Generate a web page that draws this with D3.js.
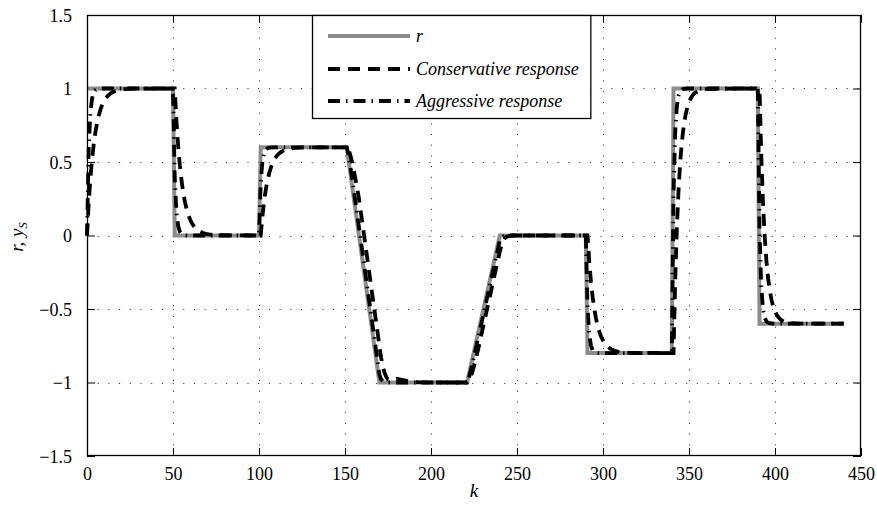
<!DOCTYPE html>
<html><head><meta charset="utf-8">
<script src="https://cdn.jsdelivr.net/npm/d3@7/dist/d3.min.js"></script>
<style>
html,body{margin:0;padding:0;background:#fff;}
svg{display:block;}
</style></head>
<body>
<script>
// ---- data ----
const xTicks = [0,50,100,150,200,250,300,350,400,450];
const xTickLabels = ["0","50","100","150","200","250","300","350","400","450"];
const yTicks = [-1.5,-1,-0.5,0,0.5,1,1.5];
const yTickLabels = ["\u22121.5","\u22121","\u22120.5","0","0.5","1","1.5"];

const seriesNames = ["r","Conservative response","Aggressive response"];

const kRef = [0,50,51,100,101,151,170,221,240,290,291,340,341,390,391,440];
const rRef = [1,1,0,0,0.6,0.6,-1,-1,0,0,-0.8,-0.8,1,1,-0.6,-0.6];

const kCons = [0,1,2,3,4,5,6,7,8,9,10,11,12,13,14,15,17,19,22,26,51,
  52,53,54,55,56,57,58,59,60,61,62,63,64,65,67,69,71,76,101,
  102,103,104,105,106,107,108,109,110,111,112,113,114,115,116,117,119,121,126,151,
  152,153,154,155,156,157,158,159,160,161,162,163,164,165,166,167,168,169,170,171,172,173,174,175,177,180,183,187,192,200,221,
  222,223,224,225,226,227,228,229,230,231,232,233,234,235,236,237,238,239,240,241,242,243,244,246,248,291,
  292,293,294,295,296,297,298,299,300,301,302,303,304,305,306,307,309,311,315,341,
  342,343,344,345,346,347,348,349,350,351,352,353,355,357,361,391,
  392,393,394,395,396,397,398,399,400,401,402,403,404,405,407,409,413,440];
const yCons = [0,0.22,0.392,0.525,0.63,0.711,0.775,0.824,0.863,0.893,0.917,0.935,0.949,0.96,0.969,0.976,0.985,0.991,0.996,0.999,1,
  0.78,0.608,0.475,0.37,0.289,0.225,0.176,0.137,0.107,0.083,0.065,0.051,0.04,0.031,0.019,0.011,0.007,0.002,0,
  0.132,0.235,0.315,0.378,0.427,0.465,0.494,0.518,0.536,0.55,0.561,0.569,0.576,0.581,0.586,0.589,0.593,0.596,0.599,0.6,
  0.585,0.55,0.505,0.45,0.39,0.327,0.26,0.177,0.093,0.008,-0.076,-0.16,-0.245,-0.329,-0.413,-0.497,-0.58,-0.665,-0.75,-0.83,-0.89,-0.935,-0.962,-0.978,-0.985,-0.975,-0.982,-0.992,-0.998,-1,-1,
  -0.99,-0.965,-0.93,-0.89,-0.845,-0.795,-0.745,-0.69,-0.638,-0.585,-0.532,-0.48,-0.427,-0.374,-0.32,-0.268,-0.215,-0.162,-0.11,-0.065,-0.035,-0.017,-0.008,-0.002,0,0,
  -0.176,-0.314,-0.42,-0.504,-0.569,-0.62,-0.659,-0.69,-0.714,-0.733,-0.748,-0.759,-0.768,-0.775,-0.781,-0.785,-0.791,-0.795,-0.798,-0.8,
  -0.296,0.067,0.329,0.516,0.652,0.75,0.82,0.87,0.906,0.933,0.951,0.966,0.982,0.991,0.998,1,
  0.552,0.229,-0.003,-0.17,-0.291,-0.378,-0.44,-0.485,-0.517,-0.54,-0.557,-0.569,-0.578,-0.584,-0.592,-0.596,-0.599,-0.6];

const kAggr = [0,1,2,3,4,5,6,8,50,
  51,52,53,54,55,56,58,100,
  101,102,103,104,105,106,108,151,
  152,153,154,155,156,157,158,170,171,172,173,174,176,221,
  222,223,224,225,226,227,240,241,242,243,245,290,
  291,292,293,294,295,296,298,340,
  341,342,343,344,345,346,347,349,390,
  391,392,393,394,395,396,397,399,440];
const yAggr = [0,0.6,0.84,0.936,0.974,0.99,0.996,1,1,
  0.4,0.16,0.064,0.026,0.01,0.004,0,0,
  0.36,0.504,0.562,0.585,0.594,0.598,0.6,0.6,
  0.55,0.479,0.4,0.318,0.235,0.151,0.067,-0.944,-0.978,-0.991,-0.996,-0.999,-1,-1,
  -0.969,-0.924,-0.875,-0.824,-0.772,-0.719,-0.035,-0.014,-0.006,-0.002,0,0,
  -0.48,-0.672,-0.749,-0.78,-0.792,-0.797,-0.8,-0.8,
  0.28,0.712,0.885,0.954,0.982,0.993,0.997,1,1,
  0.04,-0.344,-0.498,-0.559,-0.584,-0.593,-0.597,-0.6,-0.6];

// ---- layout ----
const W = 877, H = 506;
const L = 87, R = 861, T = 15, B = 456;
const FONT = '"Liberation Serif"';

const svg = d3.select("body").append("svg").attr("width", W).attr("height", H);

const x = d3.scaleLinear().domain([0,450]).range([L,R]);
const y = d3.scaleLinear().domain([-1.5,1.5]).range([B,T]);

// grid
const grid = svg.append("g").attr("stroke","#222").attr("stroke-width",1).attr("stroke-dasharray","1,9.7").attr("fill","none");
xTicks.slice(1,-1).forEach(v => grid.append("line").attr("x1",Math.round(x(v))+0.5).attr("x2",Math.round(x(v))+0.5).attr("y1",B).attr("y2",T));
yTicks.slice(1,-1).forEach(v => grid.append("line").attr("y1",Math.round(y(v))+0.5).attr("y2",Math.round(y(v))+0.5).attr("x1",L).attr("x2",R));

// axes with inward ticks
const fs = 18;
const ax = svg.append("g").attr("transform",`translate(0,${B})`)
  .call(d3.axisBottom(x).tickValues(xTicks).tickFormat((d,i)=>xTickLabels[i]).tickSizeInner(-8).tickSizeOuter(0).tickPadding(11));
const ay = svg.append("g").attr("transform",`translate(${L},0)`)
  .call(d3.axisLeft(y).tickValues(yTicks).tickFormat((d,i)=>yTickLabels[i]).tickSizeInner(-8).tickSizeOuter(0).tickPadding(15));
const axTop = svg.append("g").attr("transform",`translate(0,${T})`)
  .call(d3.axisTop(x).tickValues(xTicks).tickFormat("").tickSizeInner(-8).tickSizeOuter(0));
const ayRight = svg.append("g").attr("transform",`translate(${R},0)`)
  .call(d3.axisRight(y).tickValues(yTicks).tickFormat("").tickSizeInner(-8).tickSizeOuter(0));
[ax,ay,axTop,ayRight].forEach(g => {
  g.attr("font-family", null).attr("font-size", null);
  g.select(".domain").remove();
  g.selectAll("line").attr("stroke","#000").attr("stroke-width",1);
  g.selectAll("text").style("font-family", FONT).style("font-size", fs+"px").attr("fill","#000");
});
ax.selectAll("text").attr("dy","0.71em");
ay.selectAll("text").attr("dy","0.34em");

// data lines
const line = d3.line().x(d=>x(d[0])).y(d=>y(d[1]));
const plot = svg.append("g");
const refData = kRef.map((k,i)=>[k,rRef[i]]);
const consData = kCons.map((k,i)=>[k,yCons[i]]);
const aggrData = kAggr.map((k,i)=>[k,yAggr[i]]);

const styles = [
  {stroke:"#8c8c8c", width:4, dash:null},
  {stroke:"#000", width:3.8, dash:"12,8"},
  {stroke:"#000", width:3.8, dash:"12,6,1.5,6"}
];
[refData, consData, aggrData].forEach((data,i) => {
  plot.append("path").datum(data).attr("d",line).attr("fill","none")
    .attr("stroke",styles[i].stroke).attr("stroke-width",styles[i].width)
    .attr("stroke-dasharray",styles[i].dash).attr("stroke-linejoin","miter").attr("stroke-linecap","butt");
});

// box
svg.append("rect").attr("x",L+0.5).attr("y",T+0.5).attr("width",R-L-1).attr("height",B-T-1)
  .attr("fill","none").attr("stroke","#000").attr("stroke-width",1.3);

// legend
const lg = svg.append("g");
const legBox = lg.append("rect").attr("x",312.5).attr("y",T+0.5).attr("height",103)
  .attr("fill","#fff").attr("stroke","#000").attr("stroke-width",1.3);
const legY = [36,69,101];
let maxRight = 0;
seriesNames.forEach((name,i) => {
  lg.append("line").attr("x1",328).attr("x2",410).attr("y1",legY[i]).attr("y2",legY[i])
    .attr("stroke",styles[i].stroke).attr("stroke-width",styles[i].width).attr("stroke-dasharray",styles[i].dash);
  const t = lg.append("text").attr("x",416).attr("y",legY[i]).attr("dy","0.32em")
    .style("font-family",FONT).style("font-size","18px").style("font-style","italic").text(name);
  maxRight = Math.max(maxRight, 416 + t.node().getComputedTextLength());
});
legBox.attr("width", maxRight + 12 - 312.5);

// axis labels
svg.append("text").attr("x",(L+R)/2).attr("y",497).attr("text-anchor","middle")
  .style("font-family",FONT).style("font-size","19px").style("font-style","italic").text("k");
const yl = svg.append("text").attr("transform","translate(23,237) rotate(-90)").attr("text-anchor","middle")
  .style("font-family",FONT).style("font-size","19px").style("font-style","italic");
yl.append("tspan").text("r, y");
yl.append("tspan").style("font-size","13px").attr("dy",4).text("S");
</script>
</body></html>
